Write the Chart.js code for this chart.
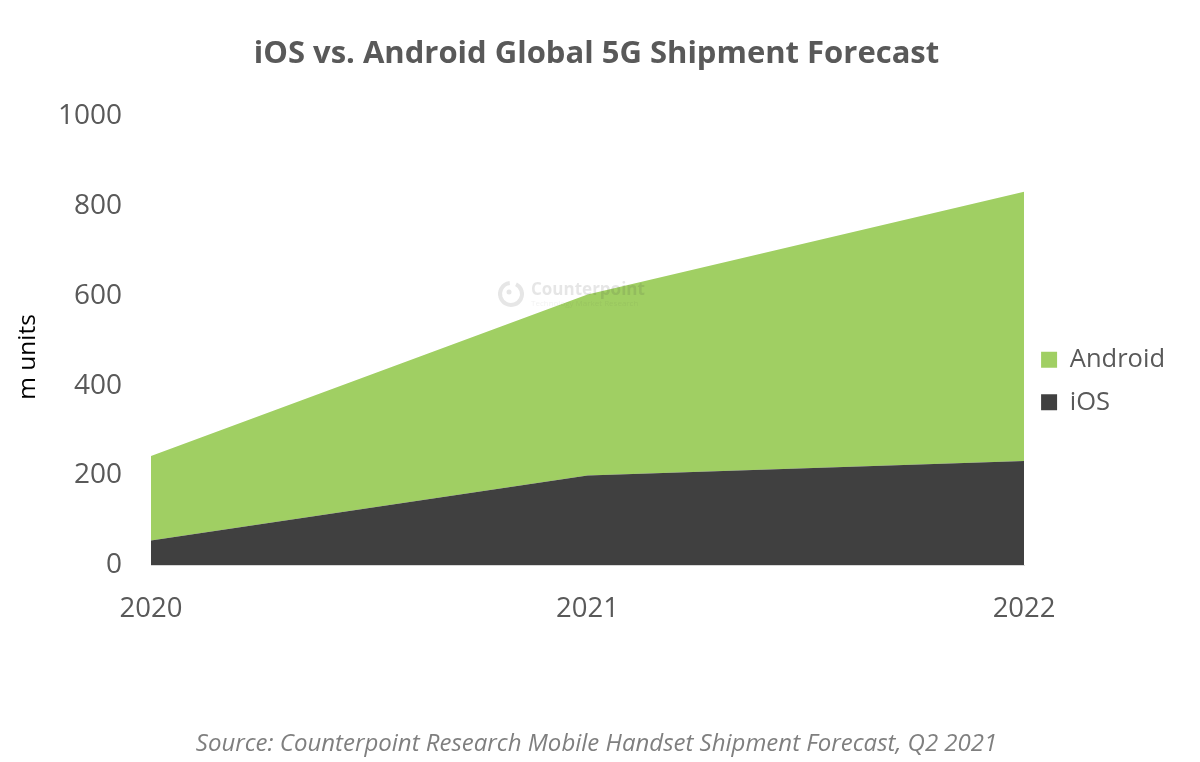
<!DOCTYPE html>
<html>
<head>
<meta charset="utf-8">
<title>iOS vs. Android Global 5G Shipment Forecast</title>
<script src="https://cdn.jsdelivr.net/npm/chart.js@4/dist/chart.umd.min.js"></script>
<style>
  html, body { margin: 0; padding: 0; background: #fff; }
  #wrap { width: 1200px; height: 762px; }
</style>
</head>
<body>
<div id="wrap"><canvas id="chart" width="1200" height="762"></canvas></div>
<script>
const years = ['2020', '2021', '2022'];
const iosValues = [55, 200, 232];
const androidValues = [188, 403, 600];
const yTicks = [0, 200, 400, 600, 800, 1000];

const FONT = '"Open Sans", "Noto Sans", sans-serif';
const TEXT = '#595959';

// faint logo that sits over the plot in the original
const watermark = {
  id: 'watermark',
  afterDatasetsDraw(chart) {
    const ctx = chart.ctx;
    ctx.save();
    ctx.globalAlpha = 0.13;
    ctx.strokeStyle = '#404040';
    ctx.fillStyle = '#404040';
    ctx.lineWidth = 4;
    ctx.beginPath();
    ctx.arc(511, 294, 11, -1.1, 4.6);
    ctx.stroke();
    ctx.beginPath();
    ctx.arc(509, 292, 2.5, 0, Math.PI * 2);
    ctx.fill();
    ctx.textBaseline = 'middle';
    ctx.font = `bold 17px ${FONT}`;
    ctx.fillText('Counterpoint', 531, 290);
    ctx.globalAlpha = 0.07;
    ctx.font = `8px ${FONT}`;
    ctx.fillText('Technology Market Research', 531, 304);
    ctx.restore();
  }
};

// axis title sits below the middle of the axis, so it is placed by hand
const yAxisLabel = {
  id: 'yAxisLabel',
  afterDraw(chart) {
    const ctx = chart.ctx;
    ctx.save();
    ctx.translate(28, 357);
    ctx.rotate(-Math.PI / 2);
    ctx.textAlign = 'center';
    ctx.textBaseline = 'middle';
    ctx.fillStyle = '#000000';
    ctx.font = `24.5px ${FONT}`;
    ctx.fillText('m units', 0, 0);
    ctx.restore();
  }
};

new Chart(document.getElementById('chart'), {
  type: 'line',
  data: {
    labels: years,
    datasets: [
      { label: 'iOS', data: iosValues, backgroundColor: '#404040', borderColor: '#404040', fill: 'origin' },
      { label: 'Android', data: androidValues, backgroundColor: '#a0cf63', borderColor: '#a0cf63', fill: '-1' }
    ]
  },
  plugins: [watermark, yAxisLabel],
  options: {
    responsive: false,
    animation: false,
    devicePixelRatio: 1,
    elements: { point: { radius: 0 }, line: { tension: 0, borderWidth: 0 } },
    layout: { padding: { left: 18, right: 25, top: 0, bottom: 0 } },
    plugins: {
      title: {
        display: true,
        text: 'iOS vs. Android Global 5G Shipment Forecast',
        color: TEXT,
        font: { family: FONT, size: 31, weight: 'bold' },
        padding: { top: 36, bottom: 43 }
      },
      subtitle: {
        display: true,
        position: 'bottom',
        text: 'Source: Counterpoint Research Mobile Handset Shipment Forecast, Q2 2021',
        color: '#7f7f7f',
        font: { family: FONT, size: 24, style: 'italic', weight: 'normal' },
        padding: { top: 0, bottom: 3 }
      },
      legend: {
        position: 'right',
        reverse: true,
        labels: {
          color: TEXT,
          font: { family: FONT, size: 25.5 },
          boxWidth: 16,
          boxHeight: 16,
          padding: 17
        }
      },
      tooltip: { enabled: false }
    },
    scales: {
      x: {
        offset: false,
        border: { color: '#d9d9d9' },
        grid: { display: false, drawTicks: true, tickColor: '#d9d9d9', tickLength: 10 },
        ticks: { color: TEXT, font: { family: FONT, size: 27.5 }, padding: 17, maxRotation: 0 },
        afterFit(scale) { scale.height = 165; }
      },
      y: {
        stacked: true,
        min: 0,
        max: 1000,
        border: { display: false },
        grid: { display: false },
        afterBuildTicks(scale) { scale.ticks = yTicks.map(v => ({ value: v })); },
        ticks: {
          color: TEXT,
          font: { family: FONT, size: 28 },
          padding: 21,
          callback: v => String(v)
        },
        afterFit(scale) { scale.width = 133; }
      }
    }
  }
});
</script>
</body>
</html>
